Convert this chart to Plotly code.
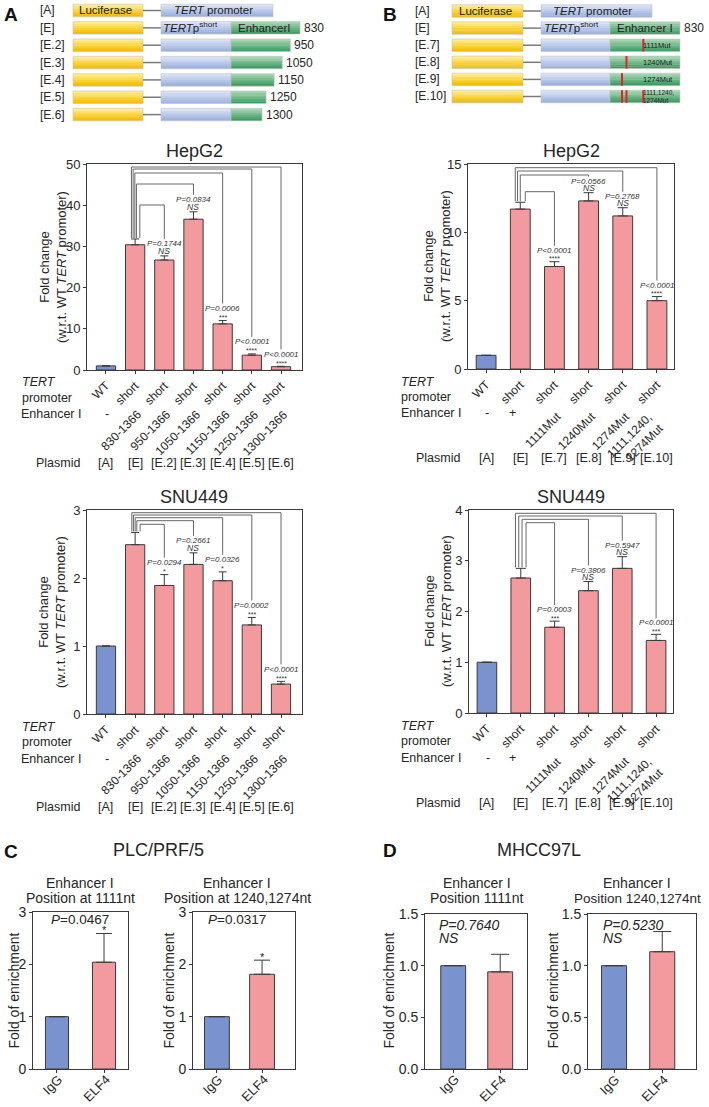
import plotly.graph_objects as go

W, H = 709, 1107
FONT = "Liberation Sans, Arial, Helvetica, sans-serif"
TXT = "#262626"
AXC = "#3a3a3a"
BLUE = "#7A93CE"
PINK = "#F29A9D"
EDGE = "#3a3a3a"
BRK = "#666666"

# ---------------- data ----------------
a_row_tert = ["WT", "short", "short", "short", "short", "short", "short"]
a_row_enh = ["-", "830-1366", "950-1366", "1050-1366", "1150-1366", "1250-1366", "1300-1366"]
a_row_plasmid = ["[A]", "[E]", "[E.2]", "[E.3]", "[E.4]", "[E.5]", "[E.6]"]

a_hep_val = [1.0, 30.4, 26.7, 36.6, 11.2, 3.6, 0.8]
a_hep_err = [0, 1.4, 1.0, 1.8, 0.8, 0.3, 0.1]
a_hep_p = ["", "", "P=0.1744", "P=0.0834", "P=0.0006", "P<0.0001", "P<0.0001"]
a_hep_sig = ["", "", "NS", "NS", "***", "****", "****"]

a_snu_val = [1.0, 2.49, 1.89, 2.20, 1.96, 1.31, 0.44]
a_snu_err = [0, 0.18, 0.16, 0.17, 0.13, 0.11, 0.04]
a_snu_p = ["", "", "P=0.0294", "P=0.2661", "P=0.0326", "P=0.0002", "P<0.0001"]
a_snu_sig = ["", "", "*", "NS", "*", "***", "****"]

b_row_tert = ["WT", "short", "short", "short", "short", "short"]
b_row_enh = ["-", "+", "1111Mut", "1240Mut", "1274Mut", "1111,1240,<br>1274Mut"]
b_row_plasmid = ["[A]", "[E]", "[E.7]", "[E.8]", "[E.9]", "[E.10]"]

b_hep_val = [1.0, 11.7, 7.5, 12.3, 11.2, 5.0]
b_hep_err = [0, 0.5, 0.35, 0.6, 0.6, 0.3]
b_hep_p = ["", "", "P<0.0001", "P=0.0566", "P=0.2768", "P<0.0001"]
b_hep_sig = ["", "", "****", "NS", "NS", "****"]

b_snu_val = [1.0, 2.66, 1.69, 2.41, 2.85, 1.43]
b_snu_err = [0, 0.19, 0.12, 0.18, 0.23, 0.12]
b_snu_p = ["", "", "P=0.0003", "P=0.3806", "P=0.5947", "P<0.0001"]
b_snu_sig = ["", "", "***", "NS", "NS", "***"]

cd_cats = ["IgG", "ELF4"]
c1_val = [1.0, 2.04]
c1_err = [0, 0.55]
c2_val = [1.0, 1.81]
c2_err = [0, 0.27]
d1_val = [1.0, 0.94]
d1_err = [0, 0.17]
d2_val = [1.0, 1.135]
d2_err = [0, 0.195]

diag_a_rows = ["[A]", "[E]", "[E.2]", "[E.3]", "[E.4]", "[E.5]", "[E.6]"]
diag_a_start = [None, 830, 950, 1050, 1150, 1250, 1300]
diag_b_rows = ["[A]", "[E]", "[E.7]", "[E.8]", "[E.9]", "[E.10]"]
diag_b_mut = [None, [], [1111], [1240], [1274], [1111, 1240, 1274]]
diag_b_mutlab = ["", "", "1111Mut", "1240Mut", "1274Mut", "1111,1240,<br>1274Mut"]
ENH_END = 1366

# ---------------- helpers ----------------
def fx(p):
    return p / W

def fy(p):
    return 1 - p / H

fig = go.Figure()
axes = {}
annots = []
shapes = []


def A(text, x, y, xref="paper", yref="paper", size=12, xa="center", ya="middle",
      angle=0, xshift=0, yshift=0, color=TXT, align="center"):
    if xref == "paper":
        x = fx(x)
    if yref == "paper":
        y = fy(y)
    annots.append(dict(text=text, x=x, y=y, xref=xref, yref=yref, showarrow=False,
                       xanchor=xa, yanchor=ya, textangle=angle, xshift=xshift,
                       yshift=yshift, align=align, borderpad=0,
                       font=dict(family=FONT, size=size, color=color)))


def bar_panel(k, xdom, ydom, yr, dtick, xr, vals, errs, barw, capw, ticktext,
              tfs=12, yfs=13, yfmt=None, show_xlabels=True):
    s = "" if k == 1 else str(k)
    xn, yn = "x" + s, "y" + s
    n = len(vals)
    xs = list(range(n))
    colors = [BLUE] + [PINK] * (n - 1)
    fig.add_trace(go.Bar(
        x=xs, y=vals, width=barw, xaxis=xn, yaxis=yn,
        marker=dict(color=colors, line=dict(color=EDGE, width=1)),
        error_y=dict(type="data", symmetric=False, array=errs, arrayminus=[0] * n,
                     color=EDGE, thickness=1, width=capw),
        showlegend=False, hoverinfo="skip"))
    common = dict(showline=True, linecolor=AXC, linewidth=1, mirror=True,
                  ticks="outside", ticklen=3, tickcolor=AXC, showgrid=False,
                  zeroline=False, fixedrange=True, automargin=False)
    axes["xaxis" + s] = dict(domain=[fx(xdom[0]), fx(xdom[1])], range=xr, anchor=yn,
                             tickmode="array", tickvals=xs, ticktext=ticktext,
                             tickangle=-45, showticklabels=show_xlabels,
                             tickfont=dict(family=FONT, size=tfs, color=TXT), **common)
    ya = dict(domain=[fy(ydom[1]), fy(ydom[0])], range=yr, anchor=xn, dtick=dtick,
              tick0=0, tickfont=dict(family=FONT, size=yfs, color=TXT), **common)
    if yfmt:
        ya["tickformat"] = yfmt
    axes["yaxis" + s] = ya
    ppux = (xdom[1] - xdom[0]) / (xr[1] - xr[0])
    ppuy = (ydom[1] - ydom[0]) / (yr[1] - yr[0])
    tops = [v + e for v, e in zip(vals, errs)]
    return dict(xn=xn, yn=yn, ppux=ppux, ppuy=ppuy, tops=tops, yr=yr, ydom=ydom)


def brackets(P, ref, targets, levels_px, offs_px, leg_px=17):
    bx, by = [], []
    for t, lev, off in zip(targets, levels_px, offs_px):
        xl = ref + off / P["ppux"]
        y0 = P["tops"][ref] + 1 / P["ppuy"]
        yt = P["yr"][1] - lev / P["ppuy"]
        ye = P["tops"][t] + leg_px / P["ppuy"]
        bx += [xl, xl, t, t, None]
        by += [y0, yt, yt, ye, None]
    fig.add_trace(go.Scatter(x=bx, y=by, xaxis=P["xn"], yaxis=P["yn"], mode="lines",
                             line=dict(color=BRK, width=1), showlegend=False,
                             hoverinfo="skip", cliponaxis=False))


def sig_labels(P, ps, sigs, p_shift=12, s_shift=4):
    for i, (p, sg) in enumerate(zip(ps, sigs)):
        if p:
            A("<i>%s</i>" % p, i, P["tops"][i], xref=P["xn"], yref=P["yn"], size=8,
              yshift=p_shift, color="#333333")
        if sg:
            if sg == "NS":
                A("<i>NS</i>", i, P["tops"][i], xref=P["xn"], yref=P["yn"], size=8.5,
                  yshift=s_shift + 1, color="#333333")
            else:
                A(sg, i, P["tops"][i], xref=P["xn"], yref=P["yn"], size=7,
                  yshift=s_shift - 1, color="#333333")


def rows(P, enh, plas, lab_left, lab_right, enh_off, enh_rot_off, plas_off, plus_shift=-8):
    b = P["ydom"][1]
    A("<i>TERT</i>", lab_left, b + 12.5, size=12.5, xa="left")
    A("promoter", lab_left, b + 27.5, size=12.5, xa="left")
    A("Enhancer I", lab_right, b + enh_off, size=12.5, xa="right")
    A("Plasmid", lab_right, b + plas_off, size=12.5, xa="right")
    for i, t in enumerate(enh):
        if t in ("-", "+"):
            A(t, i, b + enh_off, xref=P["xn"], size=12.5,
              xshift=(plus_shift if t == "+" else 1))
        else:
            A(t, i, b + enh_rot_off, xref=P["xn"], size=12, xa="right", ya="top",
              angle=-45, xshift=11, align="right" if "<br>" in t else "center")
    for i, t in enumerate(plas):
        A(t, i, b + plas_off, xref=P["xn"], size=12.5)


def cd_xlabels(P, cats):
    b = P["ydom"][1]
    for i, t in enumerate(cats):
        A(t, i, b + 1.5, xref=P["xn"], size=13, xa="right", ya="top", angle=-45, xshift=10)


def ytitle(text, x, y, size=13):
    A(text, x, y, size=size, angle=-90)


def hexmix(c1, c2, t):
    a = [int(c1[i:i + 2], 16) for i in (1, 3, 5)]
    c = [int(c2[i:i + 2], 16) for i in (1, 3, 5)]
    return "#%02x%02x%02x" % tuple(round(a[j] + (c[j] - a[j]) * t) for j in range(3))


YEL = ("#FFEC8C", "#F3BD00")
BLU = ("#D9E2F5", "#9DB1DE")
GRN = ("#A4D4B1", "#3F9C63")


def gbox(x0, x1, yc, h, cols, n=6):
    top = yc - h / 2
    for j in range(n):
        col = hexmix(cols[0], cols[1], j / (n - 1))
        shapes.append(dict(type="rect", xref="paper", yref="paper", x0=fx(x0), x1=fx(x1),
                           y0=fy(min(top + (j + 1) * h / n + 0.4, top + h)),
                           y1=fy(top + j * h / n), fillcolor=col, line=dict(width=0)))
    shapes.append(dict(type="rect", xref="paper", yref="paper", x0=fx(x0), x1=fx(x1),
                       y0=fy(top + h), y1=fy(top), fillcolor="rgba(0,0,0,0)",
                       line=dict(color="#c4c4c4", width=0.6)))


def hline(x0, x1, y, color="#7a7a7a", w=1.5):
    shapes.append(dict(type="line", xref="paper", yref="paper", x0=fx(x0), x1=fx(x1),
                       y0=fy(y), y1=fy(y), line=dict(color=color, width=w)))


# ---------------- construct diagrams ----------------
BH = 12.5
for i, lab in enumerate(diag_a_rows):
    yc = 10.5 + 17.35 * i
    A(lab, 39, yc, size=12, xa="left")
    gbox(73, 143, yc, BH, YEL)
    hline(143, 161, yc)
    st = diag_a_start[i]
    if st is None:
        gbox(161, 273, yc, BH, BLU)
        A("Luciferase", 78, yc, size=11.5, xa="left", color="#222")
        A("<i>TERT</i> promoter", 173, yc, size=11.5, xa="left", color="#222")
    else:
        gbox(161, 231, yc, BH, BLU)
        xe = 231 + 25.7 + (ENH_END - st) * 0.0809
        gbox(231, xe, yc, BH, GRN)
        A(str(st), xe + 3, yc, size=12, xa="left")
        if i == 1:
            A("<i>TERT</i>p<sup>short</sup>", 162, yc - 1, size=11.5, xa="left", color="#222")
            A("EnhancerI", 237, yc, size=11.5, xa="left", color="#222")


def mut_px(pos):
    return 610 + (ENH_END - pos) * 70 / (ENH_END - 830)


for i, lab in enumerate(diag_b_rows):
    yc = 11 + 17.1 * i
    A(lab, 414, yc, size=12, xa="left")
    gbox(452, 523, yc, BH, YEL)
    hline(523, 541, yc)
    if i == 0:
        gbox(541, 652, yc, BH, BLU)
        A("Luciferase", 458, yc, size=11.5, xa="left", color="#222")
        A("<i>TERT</i> promoter", 552, yc, size=11.5, xa="left", color="#222")
    else:
        gbox(541, 610, yc, BH, BLU)
        gbox(610, mut_px(830), yc, BH, GRN)
        if i == 1:
            A("830", mut_px(830) + 3, yc, size=12, xa="left")
            A("<i>TERT</i>p<sup>short</sup>", 543, yc - 1, size=11.5, xa="left", color="#222")
            A("Enhancer I", 616, yc, size=11.5, xa="left", color="#222")
        for m in diag_b_mut[i]:
            xm = mut_px(m)
            shapes.append(dict(type="rect", xref="paper", yref="paper", x0=fx(xm - 1),
                               x1=fx(xm + 1), y0=fy(yc + BH / 2), y1=fy(yc - BH / 2),
                               fillcolor="#E3232B", line=dict(width=0)))
        if diag_b_mutlab[i]:
            two = "<br>" in diag_b_mutlab[i]
            A(diag_b_mutlab[i], 642, yc, size=6.5 if two else 7.5, xa="left",
              color="#222", align="left")

A("<b>A</b>", 11, 15, size=19, color="#111")
A("<b>B</b>", 390, 15, size=19, color="#111")

# ---------------- panel A ----------------
P1 = bar_panel(1, (87, 302), (164, 370), [0, 50], 10, [-0.65, 6.72], a_hep_val, a_hep_err,
               0.66, 4, a_row_tert)
brackets(P1, 1, [2, 3, 4, 5, 6], [41, 20, 9, 5, 3], [4.7, 1.3, -0.3, -2, -3.7])
sig_labels(P1, a_hep_p, a_hep_sig)
rows(P1, a_row_enh, a_row_plasmid, 21, 82, 44, 36, 93)
A("HepG2", 194, 151, size=18)
ytitle("Fold change<br>(w.r.t. WT <i>TERT</i> promoter)", 53, 267)

P2 = bar_panel(2, (87, 302), (510, 714), [0, 3], 1, [-0.65, 6.72], a_snu_val, a_snu_err,
               0.66, 4, a_row_tert)
brackets(P2, 1, [2, 3, 4, 5, 6], [14.3, 10.7, 7.7, 5, 2.7], [5, 1.7, 0, -1.7, -3.3])
sig_labels(P2, a_snu_p, a_snu_sig)
rows(P2, a_row_enh, a_row_plasmid, 21, 82, 45, 36, 93)
A("SNU449", 194, 497, size=18)
ytitle("Fold change<br>(w.r.t. WT <i>TERT</i> promoter)", 52, 612)

# ---------------- panel B ----------------
P3 = bar_panel(3, (468, 674), (164, 369), [0, 15], 5, [-0.53, 5.5], b_hep_val, b_hep_err,
               0.58, 5, b_row_tert)
brackets(P3, 1, [2, 3, 4, 5], [27.7, 11, 7, 3.7], [5, 0, -2.7, -5], leg_px=16)
sig_labels(P3, b_hep_p, b_hep_sig, p_shift=11.5)
rows(P3, b_row_enh, b_row_plasmid, 400, 462, 44, 39, 89)
A("HepG2", 571, 151, size=18)
ytitle("Fold change<br>(w.r.t. WT <i>TERT</i> promoter)", 437.5, 266.5)

P4 = bar_panel(4, (469, 673), (510, 713), [0, 4], 1, [-0.53, 5.5], b_snu_val, b_snu_err,
               0.58, 5, b_row_tert)
brackets(P4, 1, [2, 3, 4, 5], [12.7, 9.3, 6, 3.3], [5.3, 1.3, -2, -5.3], leg_px=16)
sig_labels(P4, b_snu_p, b_snu_sig, p_shift=11.5)
rows(P4, b_row_enh, b_row_plasmid, 400, 462, 45, 40, 90)
A("SNU449", 571, 497, size=18)
ytitle("Fold change<br>(w.r.t. WT <i>TERT</i> promoter)", 437.5, 611.5)

# ---------------- panels C / D ----------------
P5 = bar_panel(5, (33, 128), (912, 1069), [0, 3], 1, [-0.51, 1.51], c1_val, c1_err,
               0.49, 8, cd_cats, yfs=14, show_xlabels=False)
P6 = bar_panel(6, (193, 295), (912, 1069), [0, 3], 1, [-0.53, 1.73], c2_val, c2_err,
               0.55, 8, cd_cats, yfs=14, show_xlabels=False)
P7 = bar_panel(7, (425, 527), (914, 1069), [0, 1.5], 0.5, [-0.6, 1.57], d1_val, d1_err,
               0.53, 9, cd_cats, yfs=14, yfmt=".1f", show_xlabels=False)
P8 = bar_panel(8, (588, 696), (914, 1069), [0, 1.5], 0.5, [-0.54, 1.7], d2_val, d2_err,
               0.52, 9, cd_cats, yfs=14, yfmt=".1f", show_xlabels=False)
for P in (P5, P6, P7, P8):
    cd_xlabels(P, cd_cats)

A("<b>C</b>", 11, 851, size=19, color="#111")
A("<b>D</b>", 390, 850, size=19, color="#111")
A("PLC/PRF/5", 158, 850, size=18)
A("MHCC97L", 539, 850, size=18)

A("Enhancer I", 80, 883, size=14)
A("Position at 1111nt", 80, 898, size=14)
A("Enhancer I", 237, 883, size=14)
A("Position at 1240,1274nt", 237, 898, size=14)
A("Enhancer I", 477, 883, size=14)
A("Position 1111nt", 477, 898, size=14)
A("Enhancer I", 637, 883, size=14)
A("Position 1240,1274nt", 637, 898, size=13.5)

A("<i>P</i>=0.0467", 80, 919, size=13.5)
A("<i>P</i>=0.0317", 237, 919, size=13.5)
A("*", 1, P5["tops"][1], xref=P5["xn"], yref=P5["yn"], size=11, yshift=3)
A("*", 1, P6["tops"][1], xref=P6["xn"], yref=P6["yn"], size=11, yshift=3)
A("<i>P=0.7640</i>", 438, 925, size=14, xa="left")
A("<i>NS</i>", 438, 938, size=14, xa="left")
A("<i>P=0.5230</i>", 602, 925, size=14, xa="left")
A("<i>NS</i>", 602, 938, size=14, xa="left")

for xx in (13, 168, 388, 552):
    ytitle("Fold of enrichment", xx, 990.5, size=14)

fig.update_layout(width=W, height=H, margin=dict(l=0, r=0, t=0, b=0), autosize=False,
                  paper_bgcolor="white", plot_bgcolor="white", showlegend=False,
                  bargap=0, annotations=annots, shapes=shapes,
                  font=dict(family=FONT, color=TXT), **axes)
fig.write_html("out.html", config={"displayModeBar": False, "staticPlot": True},
               post_script="document.body.style.margin='0';document.body.style.padding='0';document.body.style.overflow='hidden';")
